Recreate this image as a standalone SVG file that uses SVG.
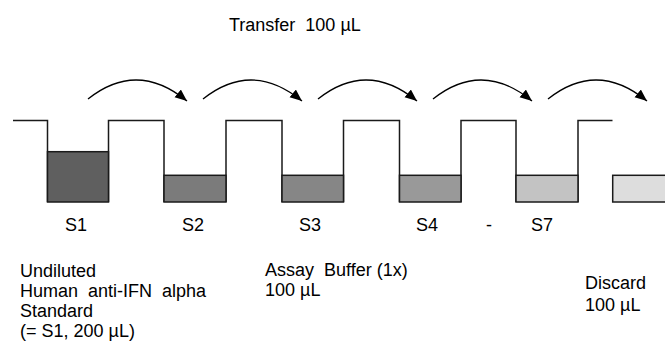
<svg xmlns="http://www.w3.org/2000/svg" width="665" height="354" viewBox="0 0 665 354">
<style>
text{font-family:"Liberation Sans",Arial,sans-serif;font-size:18px;fill:#000}
.outline{fill:none;stroke:#1a1a1a;stroke-width:1.5}
.liq{stroke:#1a1a1a;stroke-width:1.5}
.arc{fill:none;stroke:#000;stroke-width:1.3}
.lbl{text-anchor:middle}
</style>
<defs>
<marker id="ah" markerUnits="userSpaceOnUse" markerWidth="14" markerHeight="12" refX="12" refY="5" orient="auto">
<path d="M0,0 L12,5 L0,10 Z" fill="#000"/>
</marker>
</defs>
<text x="229" y="31" xml:space="preserve">Transfer  100 µL</text>
<g id="plate">
<path class="outline" d="M13,120.5 H47.5 V202 M108.5,202 V120.5 H164 V202 M226,202 V120.5 H282 V202 M343.5,202 V120.5 H399.5 V202 M461,202 V120.5 H516 V202 M578,202 V120.5 H612.5"/>
</g>
<g id="S1">
<rect class="liq" x="47.5" y="151.7" width="61" height="50.3" fill="#5f5f5f"/>
<text class="lbl" x="76" y="231">S1</text>
</g>
<g id="S2">
<rect class="liq" x="164" y="175.3" width="62" height="26.7" fill="#7b7b7b"/>
<text class="lbl" x="193" y="231">S2</text>
</g>
<g id="S3">
<rect class="liq" x="282" y="175.3" width="61.5" height="26.7" fill="#868686"/>
<text class="lbl" x="310" y="231">S3</text>
</g>
<g id="S4">
<rect class="liq" x="399.5" y="175.3" width="61.5" height="26.7" fill="#999999"/>
<text class="lbl" x="427" y="231">S4</text>
</g>
<text class="lbl" x="489" y="231">-</text>
<g id="S7">
<rect class="liq" x="516" y="175.3" width="62" height="26.7" fill="#c3c3c3"/>
<text class="lbl" x="542" y="231">S7</text>
</g>
<g id="discard-well">
<rect class="liq" x="612.7" y="175.3" width="60" height="26.7" fill="#dddddd"/>
</g>
<g id="connectors">
<path class="arc" marker-end="url(#ah)" d="M88,99 Q137,60 187,101"/>
<path class="arc" marker-end="url(#ah)" d="M203,99 Q252,60 302,101"/>
<path class="arc" marker-end="url(#ah)" d="M318,99 Q367,60 417,101"/>
<path class="arc" marker-end="url(#ah)" d="M433,99 Q482,60 532,101"/>
<path class="arc" marker-end="url(#ah)" d="M548,99 Q597,60 647,101"/>
</g>
<g id="label-standard">
<text x="20" y="277">Undiluted</text>
<text x="20" y="297" xml:space="preserve">Human  anti-IFN  alpha</text>
<text x="20" y="317">Standard</text>
<text x="20" y="337">(= S1, 200 µL)</text>
</g>
<g id="label-buffer">
<text x="265" y="276" xml:space="preserve">Assay  Buffer (1x)</text>
<text x="265" y="296">100 µL</text>
</g>
<g id="label-discard">
<text x="585" y="289">Discard</text>
<text x="585" y="311">100 µL</text>
</g>
</svg>
